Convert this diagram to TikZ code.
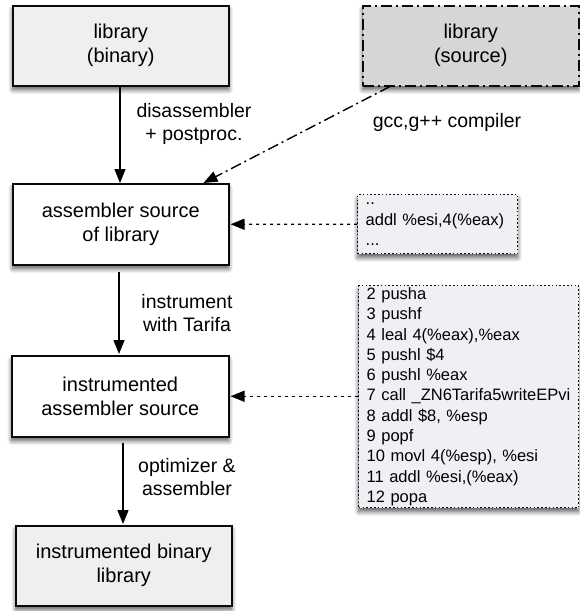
\documentclass[tikz,border=0pt]{standalone}
\usepackage{fontspec}
\setmainfont{Liberation Sans}
\usetikzlibrary{arrows.meta,shadows.blur,backgrounds}
\definecolor{lightbox}{HTML}{EFEFEF}
\definecolor{srcbox}{HTML}{D6D6D6}
\definecolor{codefill}{HTML}{F0F0F4}
\definecolor{border}{HTML}{0A0A0A}
\tikzset{
  shad/.style={blur shadow={shadow xshift=0pt, shadow yshift=-4pt, shadow blur steps=10, shadow blur radius=4.5pt, shadow opacity=65}},
  boxnode/.style={draw=border, line width=1.5pt, shad, minimum width=216pt, minimum height=80pt, anchor=north west,
    align=center, inner sep=0pt, font=\fontsize{20}{24}\selectfont},
  codebox/.style={draw=border, fill=codefill, line width=1.4pt, dash pattern=on 1.6pt off 2.2pt, shad, anchor=north west,
    align=left, inner xsep=8pt, inner ysep=0pt, font=\fontsize{16.5}{20.3}\selectfont},
  lbl/.style={align=center, inner sep=0pt, font=\fontsize{19.5}{23}\selectfont},
  flow/.style={draw=black, line width=1.4pt, -{Triangle[length=14pt,width=11pt]}},
  dotflow/.style={flow, dash pattern=on 3pt off 4pt},
  dashdotflow/.style={flow, dash pattern=on 11pt off 4pt on 2pt off 4pt},
}
\begin{document}
\begin{tikzpicture}[x=1pt,y=-1pt]
\useasboundingbox (0,0) rectangle (579,611);
\node[boxnode, fill=lightbox] (b1) at (12,5) {library\\(binary)};
\node[boxnode, fill=srcbox, dash pattern=on 11pt off 4pt on 2pt off 4pt] (b2) at (362,5) {library\\(source)};
\node[boxnode, fill=white, minimum height=81pt] (b3) at (12,183) {assembler source\\of library};
\node[boxnode, fill=white, minimum width=217pt, minimum height=81pt] (b4) at (11,355) {instrumented\\assembler source};
\node[boxnode, fill=lightbox] (b5) at (15,525) {instrumented binary\\library};

\node[codebox, minimum width=160pt, minimum height=59pt, text width=144pt] (c1) at (357,194) {..\\addl \%esi,4(\%eax)\\...};
\node[codebox, minimum width=220pt, minimum height=222pt, text width=204pt] (c2) at (358,285)
  {2 pusha\\3 pushf\\4 leal 4(\%eax),\%eax\\5 pushl \$4\\6 pushl \%eax\\7 call \_ZN6Tarifa5writeEPvi\\8 addl \$8, \%esp\\9 popf\\10 movl 4(\%esp), \%esi\\11 addl \%esi,(\%eax)\\12 popa};

\node[lbl] (l1) at (194,123.5) {disassembler\\+ postproc.};
\node[lbl] (l2) at (447,122) {gcc,g++ compiler};
\node[lbl] (l3) at (187,313.5) {instrument\\with Tarifa};
\node[lbl] (l4) at (187,477.5) {optimizer \&\\assembler};

\coordinate (a1s) at (120,85);
\coordinate (a1e) at (120,183);
\draw[flow] (a1s) -- (a1e);
\draw[dashdotflow] ([xshift=28pt]b2.south west) -- ([xshift=-26pt]b3.north east);
\draw[dotflow] (c1.west) -- ([xshift=1pt]b3.east);
\coordinate (a4s) at (119,272);
\coordinate (a4e) at (119,354);
\draw[flow] (a4s) -- (a4e);
\draw[dotflow] (c2.west |- b4.east) -- ([xshift=1pt]b4.east);
\coordinate (a5s) at (123,443);
\coordinate (a5e) at (123,524);
\draw[flow] (a5s) -- (a5e);
\end{tikzpicture}
\end{document}
